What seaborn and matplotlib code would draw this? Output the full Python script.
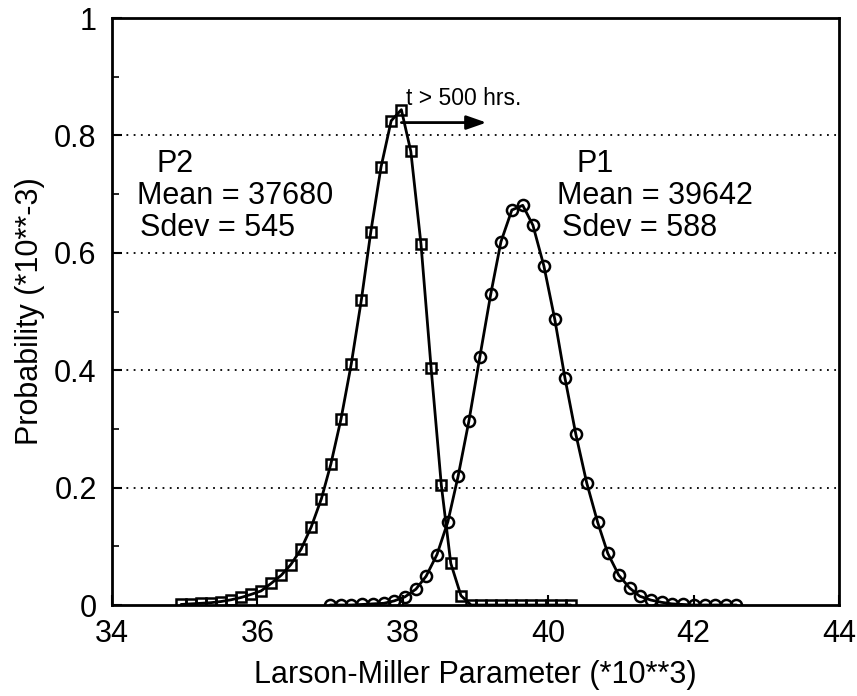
import matplotlib
matplotlib.use("Agg")
import matplotlib.pyplot as plt
import seaborn as sns
import pandas as pd

# ---- data ----
p2_x = [34.95, 35.09, 35.23, 35.36, 35.50, 35.64, 35.78, 35.91, 36.05, 36.19,
        36.33, 36.46, 36.60, 36.74, 36.88, 37.01, 37.15, 37.29, 37.43, 37.56,
        37.70, 37.84, 37.98, 38.11, 38.25, 38.39, 38.53, 38.66, 38.80, 38.94,
        39.08, 39.21, 39.35, 39.49, 39.63, 39.76, 39.90, 40.04, 40.18, 40.31]
p2_y = [0.001, 0.002, 0.003, 0.004, 0.006, 0.009, 0.013, 0.018, 0.024, 0.037,
        0.051, 0.069, 0.095, 0.133, 0.181, 0.240, 0.317, 0.410, 0.520, 0.636,
        0.746, 0.825, 0.844, 0.773, 0.615, 0.403, 0.204, 0.071, 0.016, 0.0,
        0.0, 0.0, 0.0, 0.0, 0.0, 0.0, 0.0, 0.0, 0.0, 0.0]

p1_x = [37.00, 37.15, 37.29, 37.44, 37.59, 37.74, 37.88, 38.03, 38.18, 38.32,
        38.47, 38.62, 38.76, 38.91, 39.06, 39.21, 39.35, 39.50, 39.65, 39.79,
        39.94, 40.09, 40.23, 40.38, 40.53, 40.68, 40.82, 40.97, 41.12, 41.26,
        41.41, 41.56, 41.70, 41.85, 42.00, 42.15, 42.29, 42.44, 42.59]
p1_y = [0.0, 0.0, 0.0, 0.001, 0.002, 0.003, 0.007, 0.014, 0.027, 0.049,
        0.086, 0.142, 0.219, 0.314, 0.423, 0.530, 0.619, 0.673, 0.681, 0.647,
        0.578, 0.487, 0.387, 0.291, 0.208, 0.141, 0.088, 0.051, 0.029, 0.015,
        0.0085, 0.0046, 0.002, 0.001, 0.0, 0.0, 0.0, 0.0, 0.0]

x_ticks = [34, 36, 38, 40, 42, 44]
y_ticks = [0, 0.2, 0.4, 0.6, 0.8, 1]
y_tick_labels = ["0", "0.2", "0.4", "0.6", "0.8", "1"]
grid_levels = [0.2, 0.4, 0.6, 0.8]

p2_label = ["P2", "Mean = 37680", "Sdev = 545"]
p1_label = ["P1", "Mean = 39642", "Sdev = 588"]
arrow_text = "t > 500 hrs."

# ---- plotting ----
sns.set_theme(style="ticks")
plt.rcParams["font.family"] = ["Liberation Sans", "DejaVu Sans"]
plt.rcParams["text.color"] = "black"
plt.rcParams["axes.labelcolor"] = "black"

fig = plt.figure(figsize=(8.57, 6.96), dpi=100)
ax = fig.add_axes([0.1307, 0.1307, 0.979 - 0.1307, 0.974 - 0.1307])

for lv in grid_levels:
    ax.axhline(lv, color="black", linestyle=(0, (1, 3)), linewidth=1.3, zorder=1)

df2 = pd.DataFrame({"x": p2_x, "y": p2_y})
df1 = pd.DataFrame({"x": p1_x, "y": p1_y})
sns.lineplot(data=df2, x="x", y="y", ax=ax, color="black", linewidth=2.0,
             marker="s", markersize=7.5, markerfacecolor="none",
             markeredgecolor="black", markeredgewidth=1.8, zorder=3)
sns.lineplot(data=df1, x="x", y="y", ax=ax, color="black", linewidth=2.0,
             marker="o", markersize=8, markerfacecolor="none",
             markeredgecolor="black", markeredgewidth=1.8, zorder=3)

ax.set_xlim(34, 44)
ax.set_ylim(0, 1)
ax.set_xticks(x_ticks)
ax.set_xticklabels([str(t) for t in x_ticks])
ax.set_yticks(y_ticks)
ax.set_yticklabels(y_tick_labels)
ax.set_yticks([0.1, 0.3, 0.5, 0.7, 0.9], minor=True)
ax.tick_params(axis="both", which="major", direction="in", length=7, width=1.5,
               labelsize=22, color="black", labelcolor="black")
ax.tick_params(axis="y", which="major", pad=11)
ax.tick_params(axis="x", which="major", pad=10)
ax.tick_params(axis="y", which="minor", direction="in", length=5, width=1.2,
               color="black")
for s in ax.spines.values():
    s.set_linewidth(2.0)
    s.set_color("black")
    s.set_visible(True)

ax.set_xlabel("Larson-Miller Parameter (*10**3)", fontsize=22, color="black", labelpad=8)
ax.set_ylabel("Probability (*10**-3)", fontsize=22, color="black", labelpad=7)

fs = 22
ax.text(34.61, 0.738, p2_label[0], fontsize=fs, ha="left", va="baseline", color="black")
ax.text(34.34, 0.683, p2_label[1], fontsize=fs, ha="left", va="baseline", color="black")
ax.text(34.385, 0.628, p2_label[2], fontsize=fs, ha="left", va="baseline", color="black")
ax.text(40.39, 0.738, p1_label[0], fontsize=fs, ha="left", va="baseline", color="black")
ax.text(40.12, 0.683, p1_label[1], fontsize=fs, ha="left", va="baseline", color="black")
ax.text(40.19, 0.628, p1_label[2], fontsize=fs, ha="left", va="baseline", color="black")

ax.text(38.04, 0.852, arrow_text, fontsize=16.5, ha="left", va="baseline", color="black")
ax.annotate("", xy=(39.15, 0.822), xytext=(37.98, 0.822),
            arrowprops=dict(arrowstyle="-|>,head_length=1.0,head_width=0.35",
                            color="black", lw=2.0, shrinkA=0, shrinkB=0))

fig.savefig("out.png", dpi=100)
